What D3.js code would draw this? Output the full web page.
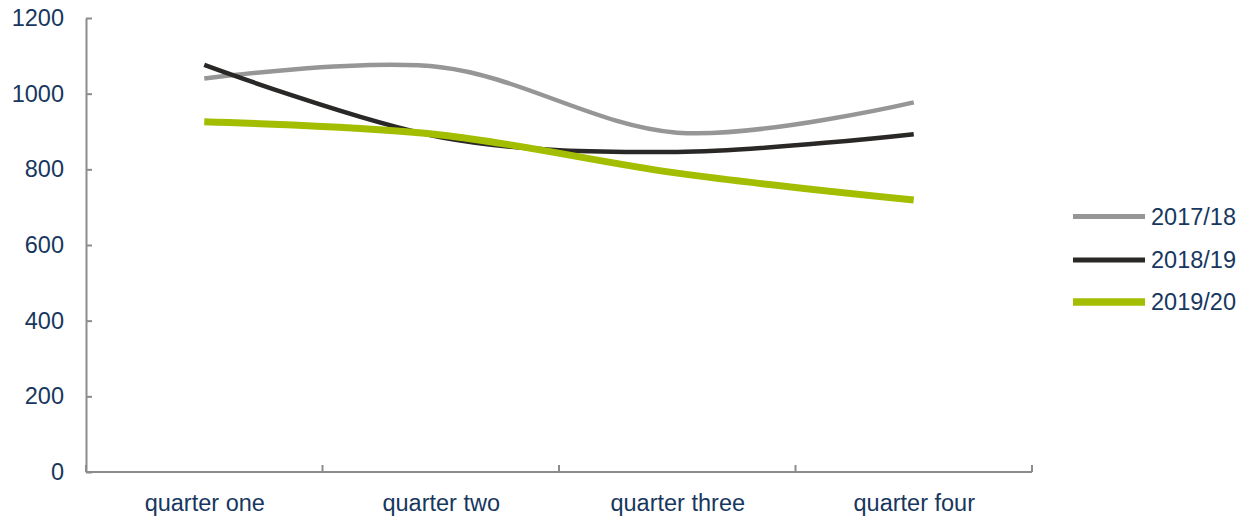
<!DOCTYPE html>
<html>
<head>
<meta charset="utf-8">
<script src="https://cdn.jsdelivr.net/npm/d3@7"></script>
<style>
html,body{margin:0;padding:0;background:#fff;}
svg{display:block;}
text{font-family:"Liberation Sans",Arial,sans-serif;fill:#17375e;}
</style>
</head>
<body>
<svg id="chart" width="1260" height="516"></svg>
<script>
const categories = ["quarter one", "quarter two", "quarter three", "quarter four"];
const seriesNames = ["2017/18", "2018/19", "2019/20"];
const values2017 = [1040, 1070, 897, 977];
const values2018 = [1076, 885, 846, 893];
const values2019 = [926, 891, 790, 719];
const yTicks = [0, 200, 400, 600, 800, 1000, 1200];

const seriesValues = [values2017, values2018, values2019];
const colors = ["#969696", "#2a2826", "#a3be00"];
const widths = [4.5, 4.5, 7];

const svg = d3.select("#chart");
const plotLeft = 86, plotRight = 1032, plotTop = 18, plotBottom = 472;
const fontSize = "23.5px";

const xBand = d3.scaleBand().domain(categories).range([plotLeft, plotRight]).padding(0);
const x = d3.scalePoint().domain(categories).range([plotLeft, plotRight]).padding(0.5);
const y = d3.scaleLinear().domain([0, 1200]).range([plotBottom, plotTop]);

const axisColor = "#8c8c8c";

// Y axis
const yAxis = svg.append("g")
  .attr("transform", `translate(${plotLeft},0)`)
  .call(d3.axisLeft(y).tickValues(yTicks).tickFormat(d3.format("d")).tickSize(-6).tickPadding(22).tickSizeOuter(0));
yAxis.select(".domain").attr("stroke", axisColor).attr("stroke-width", 2);
yAxis.selectAll(".tick line").attr("stroke", axisColor).attr("stroke-width", 2);
yAxis.selectAll(".tick text").style("font-size", fontSize).attr("fill", "#17375e")
  .style("font-family", '"Liberation Sans",Arial,sans-serif');

// X axis
const xAxis = svg.append("g")
  .attr("transform", `translate(0,${plotBottom})`)
  .call(d3.axisBottom(x).tickSize(0).tickPadding(22).tickSizeOuter(0));
xAxis.select(".domain").remove();
xAxis.selectAll(".tick text").style("font-size", fontSize).attr("fill", "#17375e")
  .style("font-family", '"Liberation Sans",Arial,sans-serif');
svg.append("line")
  .attr("x1", plotLeft).attr("x2", plotRight).attr("y1", plotBottom).attr("y2", plotBottom)
  .attr("stroke", axisColor).attr("stroke-width", 2);
const boundaries = categories.map(c => xBand(c)).concat([xBand(categories[categories.length - 1]) + xBand.bandwidth()]);
svg.append("g").selectAll("line").data(boundaries).join("line")
  .attr("x1", d => d).attr("x2", d => d)
  .attr("y1", plotBottom).attr("y2", plotBottom - 7)
  .attr("stroke", axisColor).attr("stroke-width", 2);

// Lines
const line = d3.line()
  .x((d, i) => x(categories[i]))
  .y(d => y(d))
  .curve(d3.curveCatmullRom.alpha(0));

svg.append("g").selectAll("path").data(seriesValues).join("path")
  .attr("d", d => line(d))
  .attr("fill", "none")
  .attr("stroke", (d, i) => colors[i])
  .attr("stroke-width", (d, i) => widths[i]);

// Legend
const legendY = [216.5, 260, 302];
const lg = svg.append("g").selectAll("g").data(seriesNames).join("g")
  .attr("transform", (d, i) => `translate(1073,${legendY[i]})`);
lg.append("line")
  .attr("x1", 0).attr("x2", 72).attr("y1", 0).attr("y2", 0)
  .attr("stroke", (d, i) => colors[i])
  .attr("stroke-width", (d, i) => [5, 5, 7.5][i]);
lg.append("text")
  .attr("x", 78).attr("y", 0).attr("dy", "0.35em")
  .style("font-size", fontSize)
  .text(d => d);
</script>
</body>
</html>
